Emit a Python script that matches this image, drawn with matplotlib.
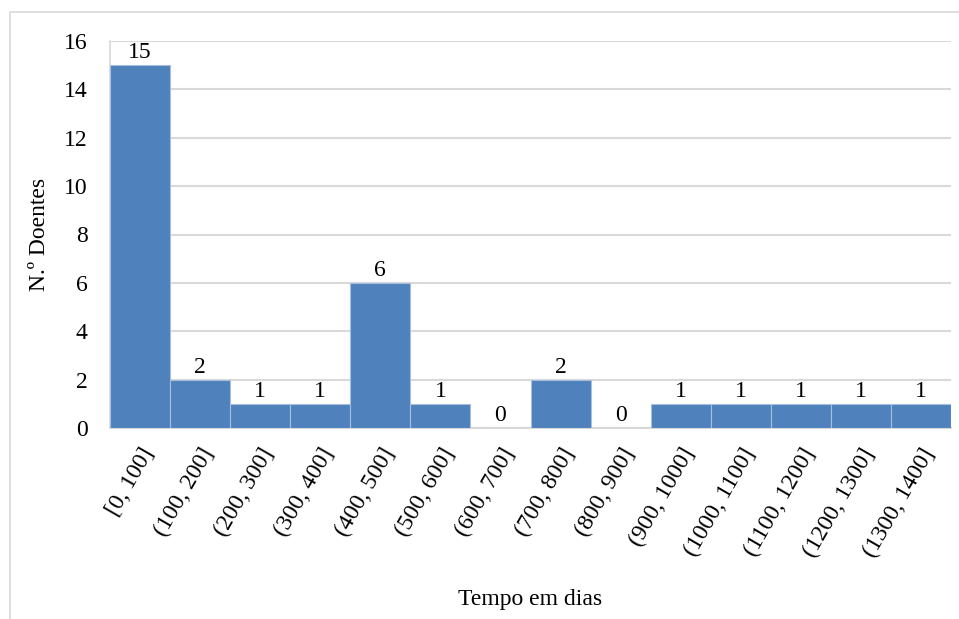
import matplotlib.pyplot as plt
from matplotlib.patches import Rectangle

plt.rcParams['font.family'] = ['Liberation Serif', 'DejaVu Serif']

intervals = ['[0, 100]', '(100, 200]', '(200, 300]', '(300, 400]', '(400, 500]',
             '(500, 600]', '(600, 700]', '(700, 800]', '(800, 900]', '(900, 1000]',
             '(1000, 1100]', '(1100, 1200]', '(1200, 1300]', '(1300, 1400]']
doentes = [15, 2, 1, 1, 6, 1, 0, 2, 0, 1, 1, 1, 1, 1]

fig = plt.figure(figsize=(9.59, 6.19), dpi=100)
ax = fig.add_axes([110 / 959, 1 - 428 / 619, 841 / 959, 387 / 619])

# outer chart border (light grey), cut off at right and bottom
fig.patches.append(Rectangle((10 / 959, -0.1), 2, 1.1 - 12 / 619, transform=fig.transFigure,
                             fill=False, edgecolor='#D9D9D9', linewidth=1.2))

pos = list(range(len(intervals)))
ax.bar(pos, doentes, width=1.0, align='edge', color='#4F81BD',
       edgecolor='#A7BFDE', linewidth=0.8, zorder=3)

for p, v in zip(pos, doentes):
    ax.text(p + 0.5, v + 0.08, str(v), ha='center', va='bottom', fontsize=17, zorder=4)

ax.set_xlim(0, 14)
ax.set_ylim(0, 16)
ax.set_yticks(range(0, 17, 2))
ax.set_xticks([p + 0.5 for p in pos])
ax.set_xticklabels(intervals, rotation=60, ha='right', rotation_mode='anchor', fontsize=17)
ax.tick_params(axis='y', labelsize=17, length=0, pad=16)
ax.tick_params(axis='x', length=0, pad=12)

ax.grid(axis='y', color='#D9D9D9', linewidth=1.5, zorder=0)
for s in ['top', 'right']:
    ax.spines[s].set_visible(False)
ax.spines['left'].set_color('#D9D9D9')
ax.spines['left'].set_linewidth(1.2)
ax.spines['bottom'].set_color('#D9D9D9')
ax.spines['bottom'].set_linewidth(1.5)

ax.set_ylabel('N.º Doentes', fontsize=17, labelpad=10)
fig.text(530 / 959, 1 - 600 / 619, 'Tempo em dias', ha='center', va='center', fontsize=17)

fig.savefig('out.png', dpi=100)
